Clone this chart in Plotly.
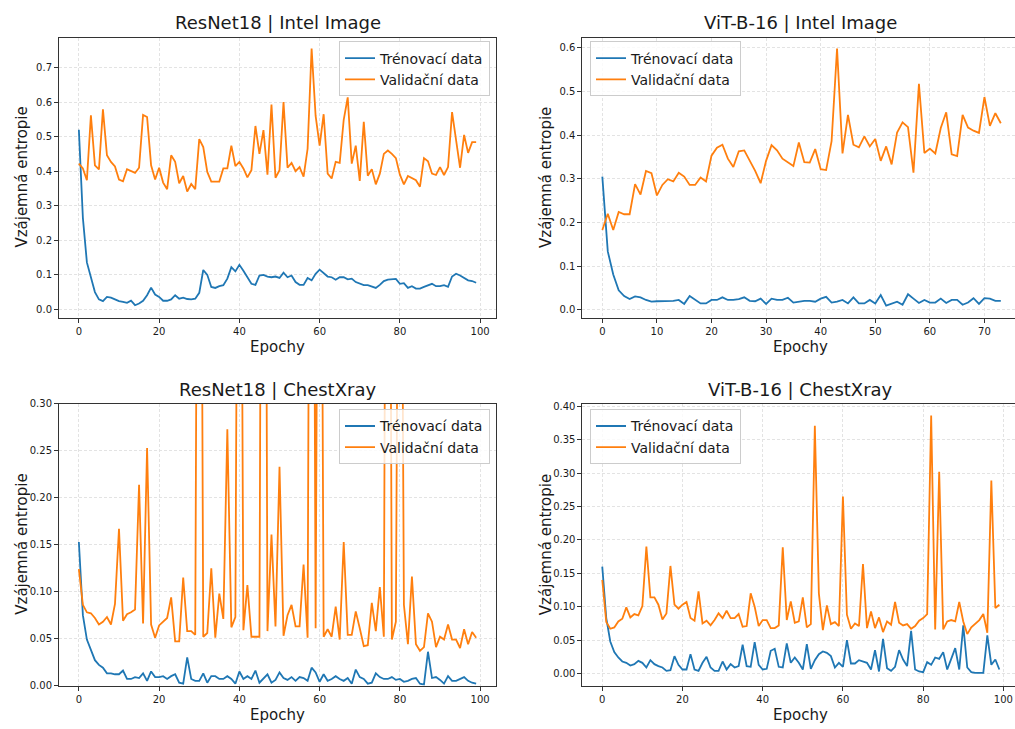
import plotly.graph_objects as go

# ---------------- data ----------------
resnet_intel_train = [0.52, 0.265, 0.136, 0.089, 0.05, 0.029, 0.024, 0.036, 0.034, 0.029,
    0.024, 0.022, 0.019, 0.025, 0.012, 0.017, 0.025, 0.041, 0.063, 0.043,
    0.036, 0.025, 0.025, 0.029, 0.041, 0.031, 0.034, 0.030, 0.029, 0.031,
    0.048, 0.114, 0.100, 0.065, 0.062, 0.067, 0.070, 0.089, 0.122, 0.110,
    0.129, 0.112, 0.093, 0.074, 0.071, 0.098, 0.100, 0.095, 0.093, 0.095,
    0.091, 0.106, 0.093, 0.098, 0.079, 0.071, 0.071, 0.091, 0.084, 0.103,
    0.115, 0.105, 0.095, 0.093, 0.086, 0.093, 0.093, 0.087, 0.089, 0.079,
    0.074, 0.070, 0.070, 0.067, 0.062, 0.071, 0.082, 0.086, 0.088, 0.088,
    0.074, 0.076, 0.062, 0.067, 0.060, 0.060, 0.065, 0.070, 0.074, 0.067,
    0.067, 0.070, 0.065, 0.095, 0.103, 0.098, 0.091, 0.084, 0.082, 0.077]
resnet_intel_val = [0.422, 0.408, 0.374, 0.562, 0.417, 0.405, 0.579, 0.446, 0.427, 0.414,
    0.376, 0.371, 0.406, 0.400, 0.395, 0.410, 0.563, 0.557, 0.417, 0.376,
    0.410, 0.367, 0.348, 0.446, 0.427, 0.365, 0.386, 0.341, 0.363, 0.348,
    0.493, 0.470, 0.398, 0.370, 0.370, 0.370, 0.408, 0.408, 0.474, 0.415,
    0.427, 0.408, 0.382, 0.403, 0.531, 0.450, 0.519, 0.390, 0.593, 0.381,
    0.403, 0.600, 0.410, 0.424, 0.400, 0.412, 0.384, 0.465, 0.755, 0.560,
    0.474, 0.565, 0.393, 0.379, 0.427, 0.424, 0.549, 0.614, 0.422, 0.474,
    0.372, 0.543, 0.387, 0.406, 0.362, 0.393, 0.450, 0.460, 0.450, 0.438,
    0.390, 0.362, 0.386, 0.379, 0.374, 0.355, 0.438, 0.429, 0.393, 0.389,
    0.412, 0.389, 0.412, 0.571, 0.493, 0.410, 0.505, 0.453, 0.484, 0.484]

vit_intel_train = [0.305, 0.134, 0.081, 0.045, 0.032, 0.025, 0.031, 0.029, 0.023, 0.019,
    0.020, 0.020, 0.020, 0.021, 0.023, 0.014, 0.032, 0.023, 0.015, 0.015,
    0.023, 0.023, 0.029, 0.023, 0.023, 0.025, 0.029, 0.021, 0.020, 0.026,
    0.014, 0.026, 0.023, 0.023, 0.028, 0.017, 0.019, 0.021, 0.021, 0.019,
    0.026, 0.030, 0.017, 0.019, 0.023, 0.015, 0.029, 0.015, 0.015, 0.023,
    0.015, 0.034, 0.010, 0.015, 0.019, 0.012, 0.036, 0.026, 0.016, 0.023,
    0.017, 0.017, 0.026, 0.016, 0.023, 0.023, 0.012, 0.017, 0.027, 0.014,
    0.027, 0.026, 0.021, 0.021]
vit_intel_val = [0.183, 0.220, 0.183, 0.224, 0.219, 0.219, 0.288, 0.264, 0.318, 0.313,
    0.262, 0.286, 0.299, 0.294, 0.314, 0.305, 0.286, 0.286, 0.303, 0.294,
    0.353, 0.371, 0.378, 0.346, 0.327, 0.363, 0.365, 0.341, 0.318, 0.290,
    0.341, 0.377, 0.365, 0.346, 0.338, 0.329, 0.383, 0.338, 0.337, 0.368,
    0.322, 0.320, 0.386, 0.598, 0.358, 0.446, 0.378, 0.372, 0.397, 0.374,
    0.391, 0.341, 0.374, 0.333, 0.406, 0.429, 0.418, 0.314, 0.517, 0.359,
    0.369, 0.358, 0.416, 0.452, 0.356, 0.352, 0.446, 0.417, 0.410, 0.405,
    0.487, 0.421, 0.450, 0.427]

resnet_chest_train = [0.153, 0.075, 0.049, 0.038, 0.027, 0.022, 0.019, 0.013, 0.013, 0.012,
    0.012, 0.016, 0.007, 0.007, 0.009, 0.008, 0.013, 0.005, 0.015, 0.009,
    0.009, 0.010, 0.007, 0.010, 0.012, 0.003, 0.002, 0.030, 0.007, 0.005,
    0.005, 0.013, 0.003, 0.010, 0.010, 0.007, 0.007, 0.010, 0.007, 0.002,
    0.015, 0.007, 0.010, 0.007, 0.016, 0.003, 0.007, 0.012, 0.003, 0.006,
    0.014, 0.008, 0.006, 0.009, 0.005, 0.009, 0.008, 0.005, 0.019, 0.014,
    0.004, 0.012, 0.005, 0.007, 0.010, 0.007, 0.005, 0.008, 0.002, 0.017,
    0.009, 0.007, 0.002, 0.003, 0.013, 0.009, 0.007, 0.007, 0.009, 0.006,
    0.007, 0.004, 0.005, 0.007, 0.008, 0.002, 0.001, 0.036, 0.008, 0.009,
    0.006, 0.002, 0.010, 0.005, 0.005, 0.007, 0.009, 0.005, 0.003, 0.002]
resnet_chest_val = [0.124, 0.086, 0.078, 0.077, 0.072, 0.065, 0.068, 0.073, 0.065, 0.087,
    0.167, 0.069, 0.076, 0.078, 0.081, 0.214, 0.066, 0.253, 0.065, 0.051,
    0.064, 0.068, 0.072, 0.094, 0.047, 0.047, 0.115, 0.058, 0.058, 0.054,
    1.10, 0.052, 0.056, 0.125, 0.051, 0.098, 0.071, 0.273, 0.062, 0.073,
    1.00, 0.059, 0.107, 0.052, 0.052, 0.052, 1.30, 0.058, 0.161, 0.063,
    0.233, 0.053, 0.075, 0.086, 0.063, 0.063, 0.129, 0.051, 1.20, 0.061,
    1.00, 0.052, 0.060, 0.052, 0.084, 0.049, 0.153, 0.054, 0.054, 0.079,
    0.061, 0.042, 0.043, 0.088, 0.058, 0.105, 0.052, 1.20, 0.049, 0.068,
    0.90, 0.086, 0.044, 0.116, 0.044, 0.037, 0.041, 0.077, 0.068, 0.041,
    0.052, 0.049, 0.065, 0.049, 0.049, 0.040, 0.060, 0.044, 0.057, 0.051]

vit_chest_train = [0.160, 0.083, 0.048, 0.032, 0.024, 0.018, 0.016, 0.012, 0.014, 0.019,
    0.016, 0.009, 0.020, 0.014, 0.011, 0.009, 0.004, 0.005, 0.026, 0.013,
    0.006, 0.006, 0.029, 0.006, 0.004, 0.016, 0.025, 0.009, 0.004, 0.004,
    0.018, 0.006, 0.014, 0.009, 0.011, 0.043, 0.011, 0.010, 0.047, 0.013,
    0.006, 0.007, 0.034, 0.037, 0.010, 0.009, 0.045, 0.016, 0.024, 0.016,
    0.006, 0.044, 0.007, 0.020, 0.029, 0.033, 0.031, 0.026, 0.009, 0.016,
    0.010, 0.050, 0.015, 0.015, 0.020, 0.018, 0.016, 0.006, 0.035, 0.003,
    0.052, 0.008, 0.004, 0.010, 0.035, 0.021, 0.011, 0.064, 0.006, 0.003,
    0.002, 0.017, 0.013, 0.024, 0.022, 0.032, 0.006, 0.022, 0.038, 0.006,
    0.072, 0.009, 0.002, 0.001, 0.001, 0.001, 0.057, 0.013, 0.021, 0.006]
vit_chest_val = [0.140, 0.077, 0.067, 0.069, 0.078, 0.082, 0.099, 0.084, 0.089, 0.087,
    0.101, 0.190, 0.114, 0.114, 0.103, 0.081, 0.090, 0.161, 0.103, 0.097,
    0.103, 0.107, 0.083, 0.079, 0.123, 0.075, 0.079, 0.072, 0.080, 0.090,
    0.083, 0.094, 0.083, 0.083, 0.089, 0.070, 0.071, 0.120, 0.100, 0.071,
    0.080, 0.080, 0.068, 0.068, 0.072, 0.189, 0.080, 0.108, 0.076, 0.078,
    0.114, 0.069, 0.074, 0.371, 0.120, 0.065, 0.102, 0.074, 0.077, 0.071,
    0.265, 0.088, 0.067, 0.075, 0.071, 0.164, 0.068, 0.093, 0.068, 0.084,
    0.062, 0.078, 0.073, 0.107, 0.076, 0.072, 0.074, 0.067, 0.071, 0.079,
    0.083, 0.089, 0.386, 0.066, 0.302, 0.066, 0.078, 0.080, 0.078, 0.107,
    0.078, 0.059, 0.069, 0.074, 0.080, 0.089, 0.061, 0.289, 0.098, 0.103]

panel_titles = ["ResNet18 | Intel Image", "ViT-B-16 | Intel Image",
                "ResNet18 | ChestXray", "ViT-B-16 | ChestXray"]
series_names = ["Trénovací data", "Validační data"]
x_label = "Epochy"
y_label = "Vzájemná entropie"

panels = [
    (resnet_intel_train, resnet_intel_val),
    (vit_intel_train, vit_intel_val),
    (resnet_chest_train, resnet_chest_val),
    (vit_chest_train, vit_chest_val),
]

# ---------------- layout geometry (pixels) ----------------
W, H = 1015, 729
FONT = "DejaVu Sans"
TXT = "#1a1a1a"
colors = ["#1f77b4", "#ff7f0e"]

left_x = (59, 496)
right_x = (582.4, 1015)
top_y = (33, 317)
bot_y = (404.5, 690)
geo = [(left_x, top_y), (right_x, top_y), (left_x, bot_y), (right_x, bot_y)]
title_cx = [277.5, 800.7, 277.5, 800.7]

x_ranges = [[-4.95, 103.95], [-3.65, 75.6], [-4.95, 103.95], [-4.95, 102.9]]
y_ranges = [[-0.024, 0.787], [-0.0175, 0.623], [0.0, 0.3], [-0.018, 0.4035]]
x_dticks = [20, 10, 20, 20]
y_dticks = [0.1, 0.1, 0.05, 0.05]
y_formats = [".1f", ".1f", ".2f", ".2f"]
legend_pos = [("right", 490, 37), ("left", 590, 37), ("right", 490, 410), ("left", 590, 410)]

fig = go.Figure()
layout = dict(width=W, height=H, margin=dict(l=0, r=0, t=0, b=0),
              paper_bgcolor="white", plot_bgcolor="white",
              font=dict(family=FONT, color=TXT), annotations=[])

for i, (train, val) in enumerate(panels):
    k = "" if i == 0 else str(i + 1)
    leg = "legend" + k
    xs = list(range(len(train)))
    for j, ys in enumerate([train, val]):
        fig.add_trace(go.Scatter(
            x=xs, y=ys, mode="lines", name=series_names[j],
            line=dict(color=colors[j], width=1.8),
            xaxis="x" + k, yaxis="y" + k, legend=leg, showlegend=True))
    (x0, x1), (y0, y1) = geo[i]
    right_cut = (i % 2 == 1)
    common = dict(showline=True, linecolor="#333333", linewidth=1,
                  ticks="outside", ticklen=4, tickwidth=0.8, tickcolor="#333333",
                  showgrid=True, gridcolor="#e3e3e3", gridwidth=0.7, griddash="3px,2px",
                  zeroline=False, tickfont=dict(family=FONT, size=10, color=TXT))
    layout["xaxis" + k] = dict(common, domain=[x0 / W, min(x1 / W, 1.0)],
                               anchor="y" + k, range=x_ranges[i], tick0=0,
                               dtick=x_dticks[i], mirror=True)
    layout["yaxis" + k] = dict(common, domain=[1 - y1 / H, 1 - y0 / H],
                               anchor="x" + k, range=y_ranges[i], tick0=0,
                               dtick=y_dticks[i], tickformat=y_formats[i],
                               mirror=(not right_cut))
    anch, lx, ly = legend_pos[i]
    layout[leg] = dict(x=lx / W, y=1 - ly / H, xanchor=anch, yanchor="top",
                       bgcolor="rgba(255,255,255,0.8)", bordercolor="#cccccc",
                       borderwidth=1, font=dict(family=FONT, size=14, color=TXT),
                       tracegroupgap=0, itemwidth=30)
    # titles and axis labels
    layout["annotations"].append(dict(
        text=panel_titles[i], xref="paper", yref="paper",
        x=title_cx[i] / W, y=1 - (y0 - 15) / H, xanchor="center", yanchor="middle",
        showarrow=False, font=dict(family=FONT, size=18, color=TXT)))
    layout["annotations"].append(dict(
        text=x_label, xref="paper", yref="paper",
        x=title_cx[i] / W, y=1 - (y1 + 30) / H, xanchor="center", yanchor="middle",
        showarrow=False, font=dict(family=FONT, size=15, color=TXT)))
    layout["annotations"].append(dict(
        text=y_label, xref="paper", yref="paper", textangle=-90,
        x=(x0 - 37) / W, y=1 - ((y0 + y1) / 2) / H, xanchor="center", yanchor="middle",
        showarrow=False, font=dict(family=FONT, size=15, color=TXT)))

fig.update_layout(**layout)
fig.write_html("out.html", config={"displayModeBar": False},
               post_script="document.body.style.margin='0';document.body.style.overflow='hidden';")
